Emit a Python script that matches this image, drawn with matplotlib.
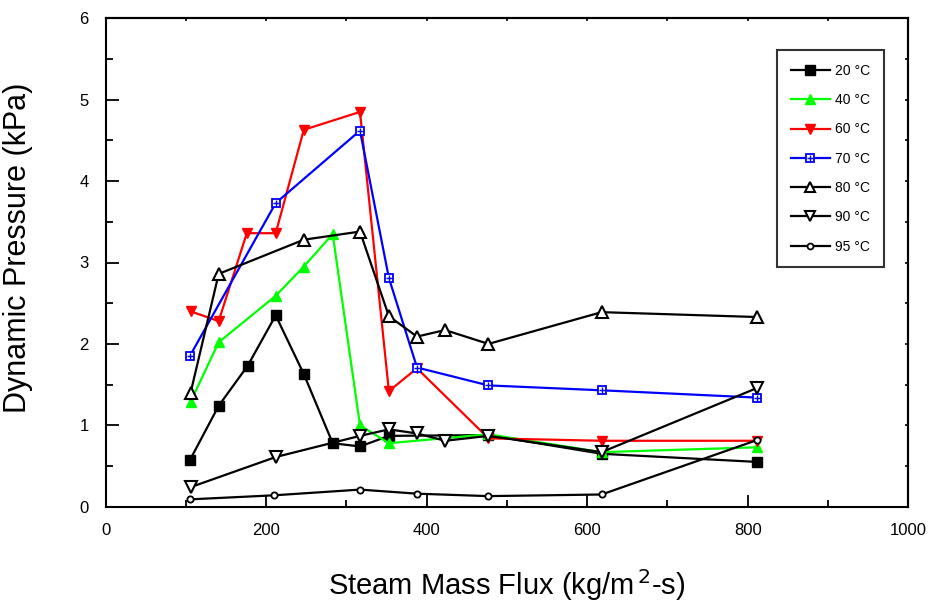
import matplotlib
matplotlib.use("Agg")
import matplotlib.pyplot as plt
from matplotlib.ticker import MultipleLocator

plt.rcParams['font.family'] = ['Liberation Sans', 'DejaVu Sans']

# ---- data ----
x20 = [105, 141, 177, 212, 247, 283, 317, 353, 477, 618, 812]
y20 = [0.57, 1.24, 1.73, 2.35, 1.63, 0.78, 0.74, 0.87, 0.88, 0.65, 0.55]

x40 = [106, 141, 212, 247, 283, 317, 353, 477, 618, 812]
y40 = [1.29, 2.02, 2.59, 2.95, 3.35, 1.00, 0.78, 0.89, 0.67, 0.73]

x60 = [106, 141, 176, 212, 247, 317, 353, 388, 477, 618, 812]
y60 = [2.40, 2.28, 3.36, 3.36, 4.63, 4.85, 1.42, 1.70, 0.84, 0.81, 0.81]

x70 = [105, 212, 317, 353, 388, 477, 618, 812]
y70 = [1.85, 3.73, 4.62, 2.81, 1.71, 1.49, 1.43, 1.34]

x80 = [106, 141, 247, 317, 353, 388, 423, 477, 618, 812]
y80 = [1.40, 2.86, 3.28, 3.38, 2.34, 2.09, 2.17, 2.00, 2.39, 2.33]

x90 = [106, 212, 317, 353, 388, 423, 477, 618, 812]
y90 = [0.24, 0.61, 0.87, 0.95, 0.90, 0.81, 0.87, 0.67, 1.46]

x95 = [105, 210, 317, 388, 477, 618, 812]
y95 = [0.09, 0.14, 0.21, 0.16, 0.13, 0.15, 0.82]

labels = ['20 °C', '40 °C', '60 °C', '70 °C', '80 °C', '90 °C', '95 °C']

xticks = [0, 200, 400, 600, 800, 1000]
yticks = [0, 1, 2, 3, 4, 5, 6]

# ---- figure ----
fig = plt.figure(figsize=(9.36, 6.03), dpi=100)
ax = fig.add_axes([105.5 / 936, 1 - 506.7 / 603, (908.3 - 105.5) / 936, (506.7 - 18.3) / 603])

lw = 1.6
h20, = ax.plot(x20, y20, color='black', lw=lw, marker='s', ms=7, mfc='black', mec='black')
h40, = ax.plot(x40, y40, color='#00ff00', lw=lw, marker='^', ms=7.5, mfc='#00ff00', mec='#00ff00')
h60, = ax.plot(x60, y60, color='#ff0000', lw=lw, marker='v', ms=7.5, mfc='#ff0000', mec='#ff0000')
h70, = ax.plot(x70, y70, color='#0000ff', lw=lw, marker='s', ms=6, mfc='white', mec='#0000ff', mew=1.3)
h70b, = ax.plot(x70, y70, color='#0000ff', lw=0, marker='+', ms=5, mec='#0000ff', mew=1.0)
h80, = ax.plot(x80, y80, color='black', lw=lw, marker='^', ms=8, mfc='white', mec='black', mew=1.5)
h90, = ax.plot(x90, y90, color='black', lw=lw, marker='v', ms=8, mfc='white', mec='black', mew=1.5)
h95, = ax.plot(x95, y95, color='black', lw=lw, marker='o', ms=4.5, mfc='white', mec='black', mew=1.3)

ax.set_xlim(0, 1000)
ax.set_ylim(0, 6)
ax.set_xticks(xticks)
ax.set_yticks(yticks)
ax.set_xticklabels([str(v) for v in xticks])
ax.set_yticklabels([str(v) for v in yticks])
ax.xaxis.set_minor_locator(MultipleLocator(100))
ax.yaxis.set_minor_locator(MultipleLocator(0.5))

ax.tick_params(axis='both', which='major', direction='in', length=9, width=1.3,
               labelsize=12, top=False, right=False)
ax.tick_params(axis='both', which='minor', direction='in', length=5, width=1.3,
               top=False, right=False)
ax.tick_params(axis='x', which='major', pad=12)
ax.tick_params(axis='y', which='major', pad=12)

# small ticks on top and right
secx = ax.secondary_xaxis('top')
secx.set_xticks(list(range(0, 1001, 100)))
secx.tick_params(direction='in', length=2.5, width=1.2, labeltop=False)
secy = ax.secondary_yaxis('right')
secy.set_yticks([v / 2 for v in range(0, 13)])
secy.tick_params(direction='in', length=2.5, width=1.2, labelright=False)
for s in list(ax.spines.values()) + [secx.spines['top'], secy.spines['right']]:
    s.set_linewidth(1.5)

ax.set_xlabel('Steam Mass Flux (kg/m$^{\\,2}$-s)', fontsize=21, labelpad=21)
ax.set_ylabel('Dynamic Pressure (kPa)', fontsize=22)
ax.yaxis.set_label_coords(-0.090, 0.53)

handles = [h20, h40, h60, (h70, h70b), h80, h90, h95]
leg = ax.legend(handles, labels, loc='upper left', bbox_to_anchor=(0.8365, 0.935),
                borderaxespad=0, frameon=True, fancybox=False, fontsize=10,
                handlelength=2.8, handletextpad=0.35, borderpad=1.0, labelspacing=1.1,
                markerscale=0.95)
leg.get_frame().set_edgecolor('black')
leg.get_frame().set_linewidth(1.5)

fig.savefig('out.png', dpi=100)
